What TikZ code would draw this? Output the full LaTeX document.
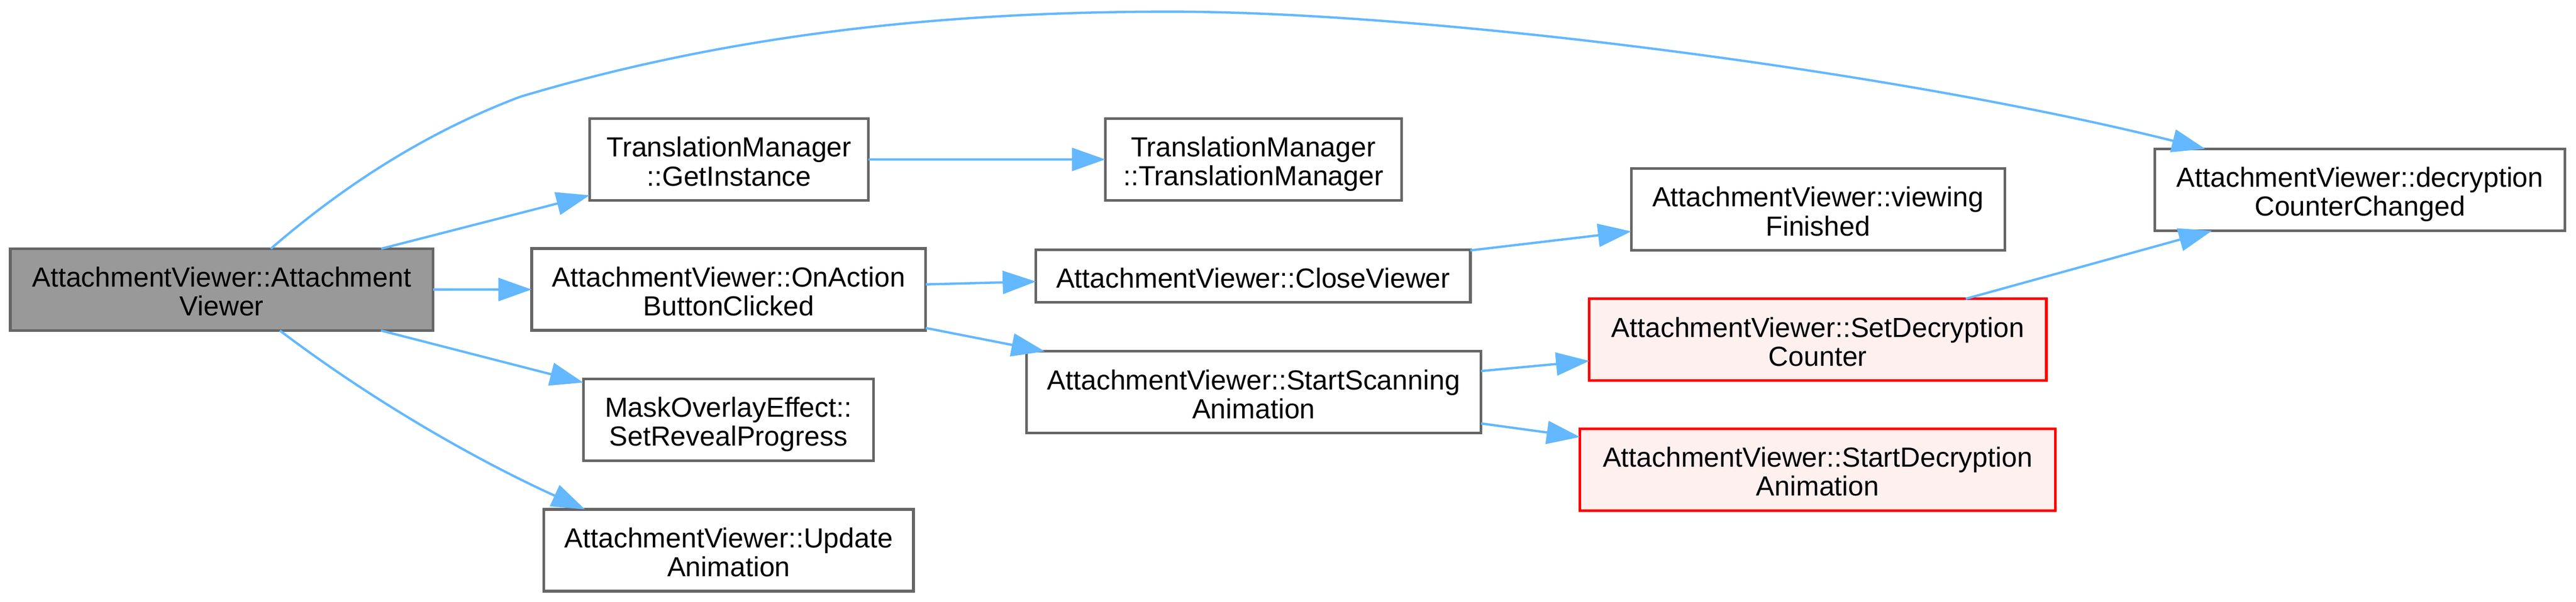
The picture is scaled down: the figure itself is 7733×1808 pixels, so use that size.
\documentclass[tikz,border=0pt]{standalone}
\usepackage{fontspec}
\setmainfont{Liberation Sans}
\usetikzlibrary{arrows.meta,calc}
\definecolor{edgeblue}{HTML}{63B8FF}
\definecolor{nodegray}{HTML}{666666}
\definecolor{mainfill}{HTML}{999999}
\definecolor{redfill}{HTML}{FFF0F0}
\newcommand{\mytopstrut}{\rule{0pt}{9pt}}
\newcommand{\mybotstrut}{\rule[-1.9pt]{0pt}{1.9pt}}
\begin{document}
\begin{tikzpicture}[x=0.1pt,y=-0.1pt,
  fn/.style={draw=nodegray, line width=0.8pt, fill=white, rectangle, inner sep=0pt, outer sep=0pt,
    minimum height=24.6pt, align=center, font=\fontsize{8.3}{8.67}\selectfont},
  mainfn/.style={fn, fill=mainfill},
  redfn/.style={fn, draw=red, fill=redfill},
  ed/.style={draw=edgeblue, line width=0.7pt, -{Triangle[length=10pt,width=6.9pt]}}
]
\useasboundingbox (0,0) rectangle (7733,1808);

\node[mainfn, minimum width=126.9pt] (main) at (665.5,870.5) {\mytopstrut AttachmentViewer::Attachment\\Viewer\mybotstrut};
\node[fn, minimum width=83.7pt] (gi) at (2188.5,479.5) {\mytopstrut TranslationManager\\::GetInstance\mybotstrut};
\node[fn, minimum width=118.3pt] (oab) at (2187.5,870) {\mytopstrut AttachmentViewer::OnAction\\ButtonClicked\mybotstrut};
\node[fn, minimum width=87.1pt] (mo) at (2186.5,1261.5) {\mytopstrut MaskOverlayEffect::\\SetRevealProgress\mybotstrut};
\node[fn, minimum width=110.9pt] (upd) at (2187.5,1654) {\mytopstrut AttachmentViewer::Update\\Animation\mybotstrut};
\node[fn, minimum width=88.9pt] (tm) at (3762.5,479) {\mytopstrut TranslationManager\\::TranslationManager\mybotstrut};
\node[fn, minimum width=130.4pt, minimum height=15.7pt] (cv) at (3762,829.5) {\mytopstrut AttachmentViewer::CloseViewer\mybotstrut};
\node[fn, minimum width=136.5pt] (ss) at (3763.5,1179) {\mytopstrut AttachmentViewer::StartScanning\\Animation\mybotstrut};
\node[fn, minimum width=112.1pt] (vf) at (5457.5,629.5) {\mytopstrut AttachmentViewer::viewing\\Finished\mybotstrut};
\node[redfn, minimum width=137.2pt] (sdc) at (5457,1021) {\mytopstrut AttachmentViewer::SetDecryption\\Counter\mybotstrut};
\node[redfn, minimum width=142.7pt] (sda) at (5456.5,1411.5) {\mytopstrut AttachmentViewer::StartDecryption\\Animation\mybotstrut};
\node[fn, minimum width=123.1pt] (dcc) at (7084.5,570.5) {\mytopstrut AttachmentViewer::decryption\\CounterChanged\mybotstrut};

\draw[ed] ($(main.north west)+(782,0)$) .. controls (1063,531) and (1311,386) .. (1561,291)
  .. controls (2212,96) and (2862,35) .. (3513,35)
  .. controls (4300,35) and (5700,217) .. ($(dcc.north west)+(151,0)$);
\draw[ed] ($(main.south west)+(809,0)$) .. controls (1140,1221) and (1456,1395) .. ($(upd.north west)+(123,0)$);
\draw[ed] (main) -- (gi);
\draw[ed] (main) -- (oab);
\draw[ed] (main) -- (mo);
\draw[ed] (gi) -- (tm);
\draw[ed] (oab) -- (cv);
\draw[ed] (oab) -- (ss);
\draw[ed] (cv) -- (vf);
\draw[ed] (ss) -- (sdc);
\draw[ed] (ss) -- (sda);
\draw[ed] (sdc) -- (dcc);
\end{tikzpicture}
\end{document}
